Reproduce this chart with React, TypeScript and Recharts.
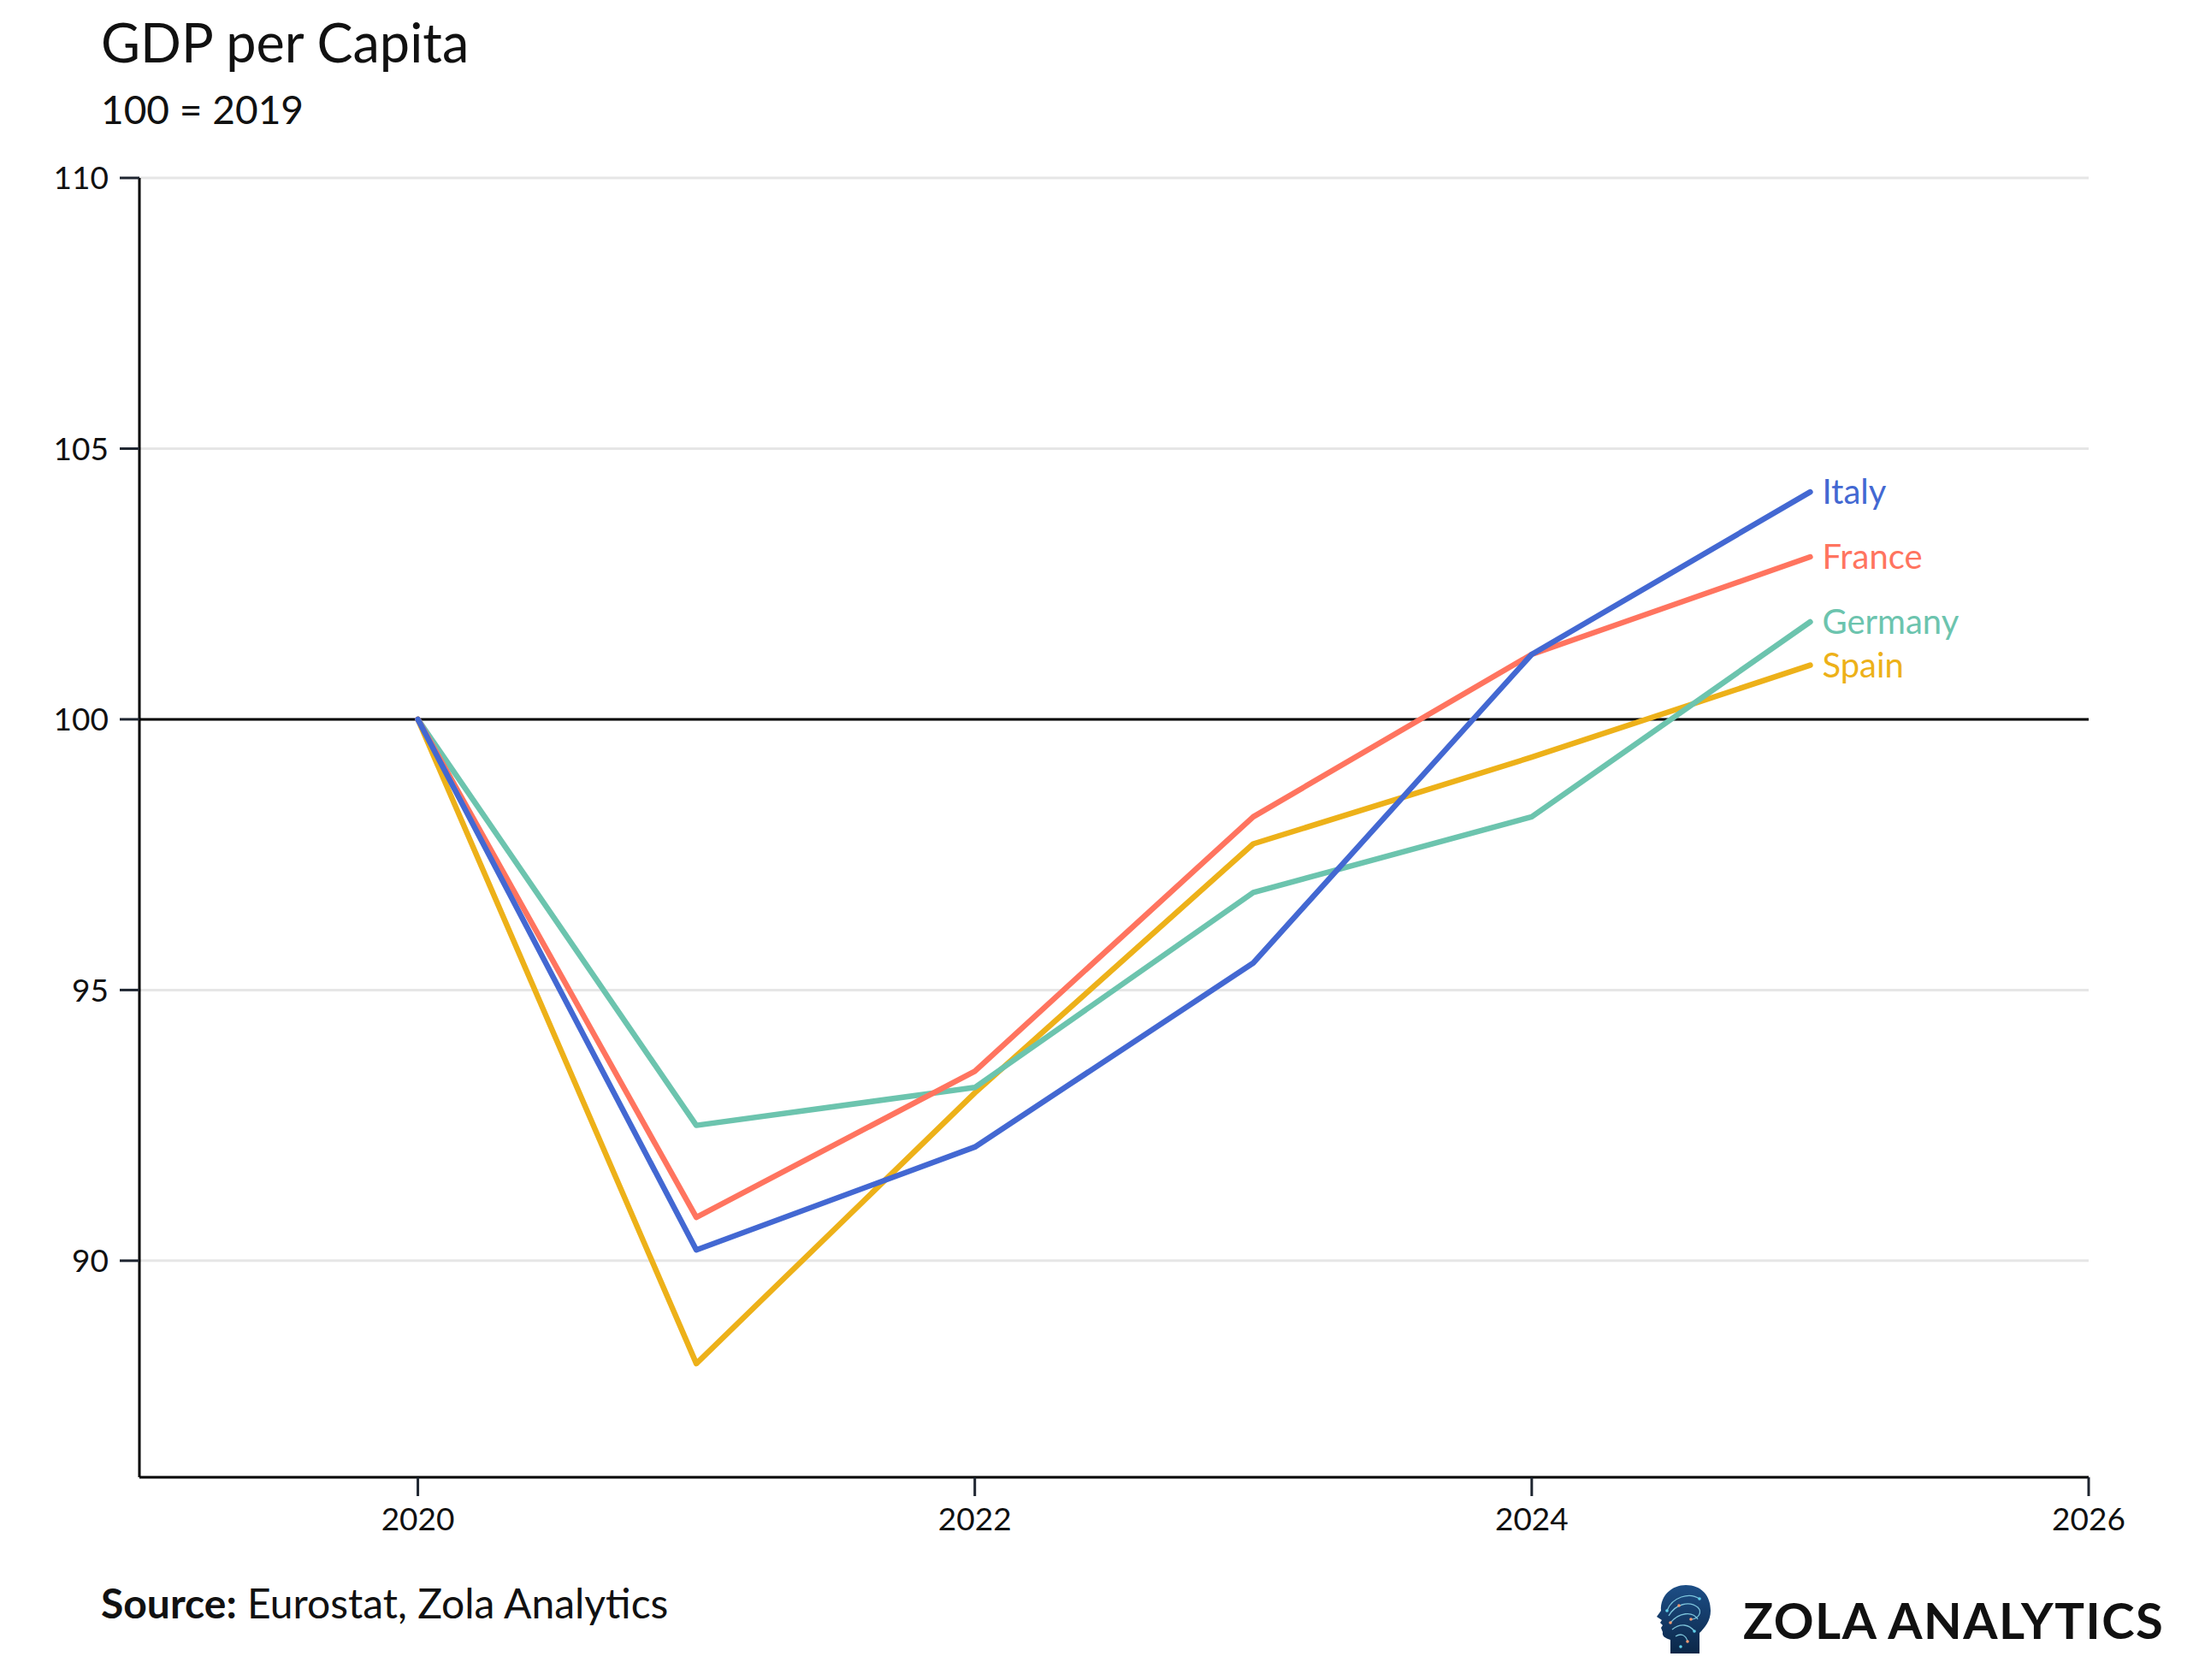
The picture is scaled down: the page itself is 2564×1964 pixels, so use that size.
import { LineChart, Line, XAxis, YAxis, CartesianGrid, ReferenceLine } from "recharts";

const years = [2020, 2021, 2022, 2023, 2024, 2025];
const italy = [100, 90.2, 92.1, 95.5, 101.2, 104.2];
const france = [100, 90.8, 93.5, 98.2, 101.2, 103.0];
const germany = [100, 92.5, 93.2, 96.8, 98.2, 101.8];
const spain = [100, 88.1, 93.1, 97.7, 99.3, 101.0];

const xTicks = [2020, 2022, 2024, 2026];
const yTicks = [90, 95, 100, 105, 110];

const series = [
  { key: "spain", name: "Spain", color: "#edb119" },
  { key: "germany", name: "Germany", color: "#6cc4ae" },
  { key: "france", name: "France", color: "#ff745f" },
  { key: "italy", name: "Italy", color: "#4368d2" },
];

const data = years.map((year, i) => ({
  year,
  italy: italy[i],
  france: france[i],
  germany: germany[i],
  spain: spain[i],
}));

const FONT = "Lato, 'Noto Sans', sans-serif";
const W = 2564;
const H = 1964;

const endLabel = (name: string, color: string) => (props: any) => {
  const { x, y, index } = props;
  if (index !== years.length - 1) return <g />;
  return (
    <text x={x + 14} y={y} dy="0.36em" fill={color} fontSize={40} fontFamily={FONT}>
      {name}
    </text>
  );
};

function Logo() {
  // small head icon, roughly like the brand mark
  return (
    <g transform="translate(1935,1853)">
      <defs>
        <linearGradient id="headGrad" x1="0" y1="0" x2="0" y2="1">
          <stop offset="0%" stopColor="#1d4e86" />
          <stop offset="100%" stopColor="#0b2748" />
        </linearGradient>
      </defs>
      <path
        d="M18 80 L18 64 C12 62 8 60 9 55 L7 50 L9 47 L6 44 L8 41 L2 37 L7 30 C6 12 20 0 36 0 C54 0 65 12 65 30 C65 42 58 50 52 56 L52 80 Z"
        fill="url(#headGrad)"
      />
      <g fill="none" stroke="#8fdcef" strokeWidth={1.3} opacity={0.85}>
        <path d="M14 30 C20 14 40 8 52 16" />
        <path d="M16 36 C24 22 40 18 50 26 C56 32 50 40 42 40" />
        <path d="M18 44 C28 32 44 30 50 40" />
        <path d="M20 52 C30 44 40 46 46 54" />
        <path d="M24 60 C30 56 36 58 38 66" />
      </g>
      <g>
        <circle cx={14} cy={30} r={1.8} fill="#5fd0ea" />
        <circle cx={52} cy={16} r={1.8} fill="#5fd0ea" />
        <circle cx={42} cy={40} r={1.8} fill="#f29a72" />
        <circle cx={18} cy={44} r={1.8} fill="#f29a72" />
        <circle cx={46} cy={54} r={1.8} fill="#5fd0ea" />
        <circle cx={38} cy={66} r={1.8} fill="#f29a72" />
        <circle cx={28} cy={24} r={1.8} fill="#f29a72" />
        <circle cx={30} cy={72} r={1.8} fill="#5fd0ea" />
      </g>
    </g>
  );
}

export default function App() {
  return (
    <div style={{ position: "absolute", left: 0, top: 0, width: W, height: H, background: "#fff" }}>
      <LineChart
        width={W}
        height={H}
        data={data}
        margin={{ top: 208, right: 122, bottom: 0, left: 0 }}
      >
        <CartesianGrid vertical={false} stroke="#e6e6e6" strokeWidth={3} />
        <XAxis
          dataKey="year"
          type="number"
          domain={[2019, 2026]}
          ticks={xTicks}
          interval={0}
          height={237}
          tickSize={22}
          tickMargin={14}
          axisLine={{ stroke: "#000", strokeWidth: 3 }}
          tickLine={{ stroke: "#1e2530", strokeWidth: 3 }}
          tick={{ fontSize: 37, fill: "#111", fontFamily: FONT }}
        />
        <YAxis
          type="number"
          domain={[86, 110]}
          ticks={yTicks}
          interval={0}
          width={163}
          tickSize={23}
          tickMargin={13}
          axisLine={{ stroke: "#000", strokeWidth: 3 }}
          tickLine={{ stroke: "#1e2530", strokeWidth: 3 }}
          tick={{ fontSize: 37, fill: "#111", fontFamily: FONT }}
        />
        <ReferenceLine y={100} stroke="#000" strokeWidth={3} />
        {series.map((s) => (
          <Line
            key={s.key}
            type="linear"
            dataKey={s.key}
            name={s.name}
            stroke={s.color}
            strokeWidth={6.5}
            strokeLinecap="round"
            strokeLinejoin="round"
            dot={false}
            activeDot={false}
            isAnimationActive={false}
            label={endLabel(s.name, s.color)}
          />
        ))}
      </LineChart>
      <svg
        width={W}
        height={H}
        style={{ position: "absolute", left: 0, top: 0, pointerEvents: "none" }}
      >
        <text x={118} y={73} fontSize={63} fontFamily={FONT} fill="#111">
          GDP per Capita
        </text>
        <text x={118} y={145} fontSize={46} fontFamily={FONT} fill="#111">
          100 = 2019
        </text>
        <text x={118} y={1892} fontSize={48} fontFamily={FONT} fill="#111">
          <tspan fontWeight={700}>Source:</tspan> Eurostat, Zola Analytics
        </text>
        <Logo />
        <text x={2038} y={1916} fontSize={58} fontWeight={700} fontFamily={FONT} fill="#111" letterSpacing={1.5}>
          ZOLA ANALYTICS
        </text>
      </svg>
    </div>
  );
}
